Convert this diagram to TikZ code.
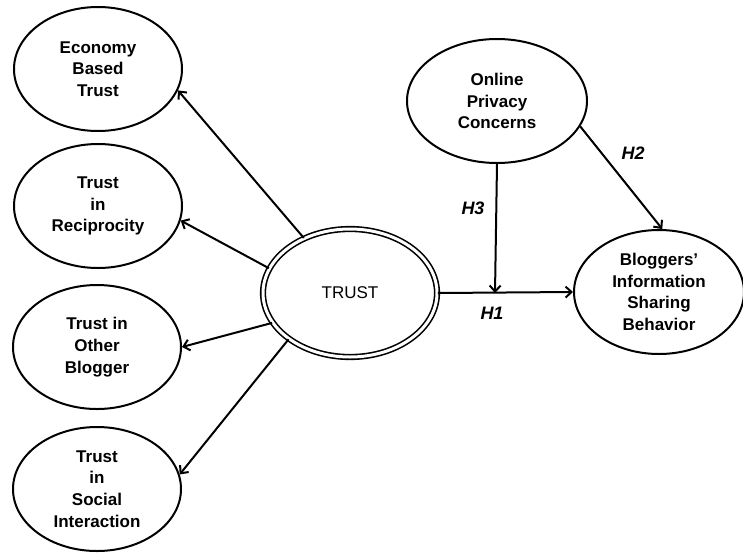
\documentclass[tikz,border=0pt]{standalone}
\usepackage{fontspec}
\setmainfont{Liberation Sans}
\usetikzlibrary{arrows.meta,shapes.geometric}

\begin{document}
\begin{tikzpicture}[x=1pt,y=-1pt,line width=2pt,
  >={Straight Barb[length=6pt,width=11pt]},
  latent/.style={draw,ellipse,minimum width=168pt,minimum height=124pt,inner sep=0pt,
    align=center,font=\fontsize{17}{21.7}\selectfont\bfseries},
  hyp/.style={font=\fontsize{18}{20}\selectfont\bfseries\itshape}]
  \useasboundingbox (0,0) rectangle (743,552);

  \node[latent] (ebt) at (98,69) {Economy\\Based\\Trust};
  \node[latent] (tr) at (98,206) {Trust\\in\\Reciprocity};
  \node[latent] (tob) at (97,347) {Trust in\\Other\\Blogger};
  \node[latent] (tsi) at (97,489) {Trust\\in\\Social\\Interaction};
  \node[latent,line width=1.6pt,double,double distance=3pt,minimum width=174pt,minimum height=128pt,
    font=\fontsize{17}{21.7}\selectfont] (t) at (350,293) {TRUST};
  \node[latent,minimum width=180pt] (opc) at (497,101) {Online\\Privacy\\Concerns};
  \node[latent,minimum width=170pt] (bisb) at (659,292) {Bloggers’\\Information\\Sharing\\Behavior};
  \coordinate (m) at (495,293);

  \draw[->] (t.130) -- (ebt.-15);
  \draw[->] (t.163) -- (tr.-10);
  \draw[->] (t.201) -- (tob.0);
  \draw[->] (t.217) -- (tsi.10);
  \draw[->] (t.0) -- (bisb.180);
  \draw[->] (opc.-90) -- (m);
  \draw[->] (opc.-17) -- (bisb.87);

  \node[hyp] (h1) at (492,313) {H1};
  \node[hyp] (h2) at (633,153) {H2};
  \node[hyp] (h3) at (473,208) {H3};
\end{tikzpicture}
\end{document}
